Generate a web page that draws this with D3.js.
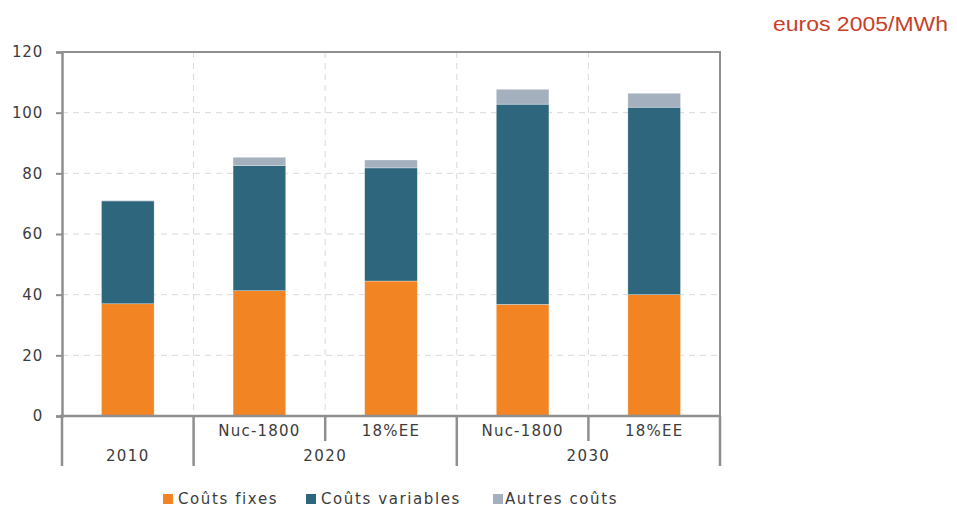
<!DOCTYPE html>
<html><head><meta charset="utf-8">
<script src="https://cdn.jsdelivr.net/npm/d3@7"></script>
<style>
html,body{margin:0;padding:0;background:#fff;}
svg{display:block;}
text{font-family:"DejaVu Sans",Verdana,sans-serif;}
</style></head>
<body>
<svg id="chart" width="957" height="507"></svg>
<script>
// ---- data ----
const subLabels = ["", "Nuc-1800", "18%EE", "Nuc-1800", "18%EE"];
const groupLabels = ["2010", "2020", "2030"];
const groupOf = ["2010", "2020", "2020", "2030", "2030"];
const coutsFixes = [37, 41.3, 44.5, 36.8, 40.0];
const coutsVariables = [33.9, 41.3, 37.3, 66.0, 61.8];
const autresCouts = [0.2, 2.7, 2.6, 4.9, 4.6];
const seriesNames = ["Coûts fixes", "Coûts variables", "Autres coûts"];
const yTicks = [0, 20, 40, 60, 80, 100, 120];
const unitLabel = "euros 2005/MWh";

// ---- layout ----
const colors = ["#f28423", "#2e677d", "#a4b0be"];
const pL = 62, pR = 720, pT = 52, pB = 416;
const svg = d3.select("#chart");

const idx = d3.range(subLabels.length);
const x = d3.scaleBand().domain(idx).range([pL, pR]).paddingInner(0.6).paddingOuter(0.3);
const step = x.step();
const y = d3.scaleLinear().domain([0, 120]).range([pB, pT]);

// grid horizontal
svg.append("g").selectAll("line").data(yTicks.filter(d => d > 0 && d < 120)).join("line")
  .attr("x1", pL).attr("x2", pR).attr("y1", d => y(d)).attr("y2", d => y(d))
  .attr("stroke", "#d9d9d9").attr("stroke-width", 1).attr("stroke-dasharray", "6,5");
// grid vertical at category boundaries
svg.append("g").selectAll("line").data(idx.slice(1)).join("line")
  .attr("x1", d => pL + d * step).attr("x2", d => pL + d * step)
  .attr("y1", pT).attr("y2", pB)
  .attr("stroke", "#d9d9d9").attr("stroke-width", 1).attr("stroke-dasharray", "6,5");

// stacked bars
const rows = idx.map(i => ({i, f: coutsFixes[i], v: coutsVariables[i], a: autresCouts[i]}));
const stack = d3.stack().keys(["f", "v", "a"])(rows);
svg.append("g").selectAll("g").data(stack).join("g")
  .attr("fill", (d, k) => colors[k])
  .selectAll("rect").data(d => d).join("rect")
  .attr("x", d => x(d.data.i)).attr("width", x.bandwidth())
  .attr("y", d => y(d[1])).attr("height", d => y(d[0]) - y(d[1]))
  .attr("stroke", "rgba(255,255,255,0.5)").attr("stroke-width", 0.6);

// frame top and right
svg.append("line").attr("x1", pL).attr("x2", pR + 1).attr("y1", pT).attr("y2", pT)
  .attr("stroke", "#8f8f8f").attr("stroke-width", 2);
svg.append("line").attr("x1", pR).attr("x2", pR).attr("y1", pT).attr("y2", pB)
  .attr("stroke", "#8f8f8f").attr("stroke-width", 2);

// y axis
const yAxis = svg.append("g").attr("transform", `translate(${pL},0)`)
  .call(d3.axisLeft(y).tickValues(yTicks).tickSize(6).tickPadding(13));
yAxis.select(".domain").attr("stroke", "#8f8f8f").attr("stroke-width", 2.5);
yAxis.selectAll(".tick line").attr("stroke", "#8f8f8f").attr("stroke-width", 2);
yAxis.selectAll(".tick text").attr("fill", "#3c3c3c").style("font-size", "15px")
  .style("letter-spacing", "0.8px").style("font-family", "DejaVu Sans, sans-serif");

// x baseline
svg.append("line").attr("x1", pL - 2).attr("x2", pR + 1).attr("y1", pB).attr("y2", pB)
  .attr("stroke", "#8f8f8f").attr("stroke-width", 2.5);

// category dividers (long at group boundaries, short within groups)
const boundaries = d3.range(subLabels.length + 1);
svg.append("g").selectAll("line").data(boundaries).join("line")
  .attr("x1", d => pL + d * step).attr("x2", d => pL + d * step)
  .attr("y1", pB)
  .attr("y2", d => (d === 0 || d === subLabels.length || groupOf[d] !== groupOf[d - 1]) ? 466 : 441)
  .attr("stroke", "#8f8f8f").attr("stroke-width", 2.5);

// sub labels
svg.append("g").selectAll("text").data(idx.filter(i => subLabels[i])).join("text")
  .attr("x", i => x(i) + x.bandwidth() / 2).attr("y", 431).attr("dy", "0.35em")
  .attr("text-anchor", "middle").attr("fill", "#3c3c3c")
  .style("font-size", "15px").style("letter-spacing", "1.2px")
  .text(i => subLabels[i]);

// group labels
svg.append("g").selectAll("text").data(groupLabels).join("text")
  .attr("x", g => {
    const members = idx.filter(i => groupOf[i] === g);
    return (pL + members[0] * step + pL + (members[members.length - 1] + 1) * step) / 2;
  })
  .attr("y", 456).attr("dy", "0.35em")
  .attr("text-anchor", "middle").attr("fill", "#3c3c3c")
  .style("font-size", "15px").style("letter-spacing", "1.4px")
  .text(g => g);

// legend
const legendX = [163, 306, 493];
const lg = svg.append("g").selectAll("g").data(seriesNames).join("g")
  .attr("transform", (d, k) => `translate(${legendX[k]},499)`);
lg.append("rect").attr("x", 0).attr("y", -5).attr("width", 10).attr("height", 10)
  .attr("fill", (d, k) => colors[k]);
lg.append("text").attr("x", (d, k) => k === 2 ? 12 : 15).attr("y", 0).attr("dy", "0.35em")
  .attr("fill", "#3c3c3c").style("font-size", "15px").style("letter-spacing", "1.6px")
  .text(d => d);

// unit label
svg.append("text").attr("x", 773).attr("y", 31)
  .attr("fill", "#c8402a")
  .attr("textLength", 175).attr("lengthAdjust", "spacingAndGlyphs")
  .style("font-family", "Liberation Sans, Arial, sans-serif").style("font-size", "20px")
  .text(unitLabel);
</script>
</body></html>
